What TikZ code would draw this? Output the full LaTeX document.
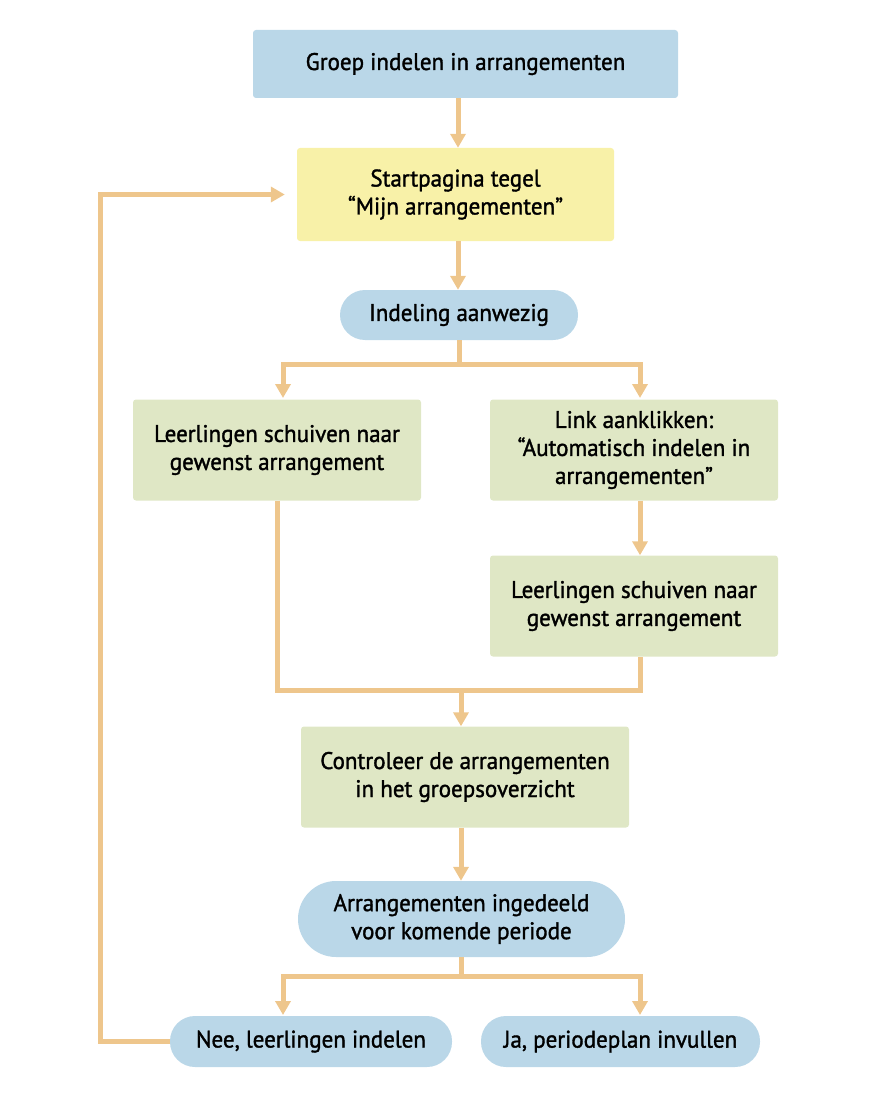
\documentclass[tikz,border=0pt]{standalone}
\usepackage{fontspec}
\setmainfont{PT Sans}[FakeStretch=0.96,FakeBold=1.4]
\usetikzlibrary{arrows.meta,positioning}
\definecolor{bluebox}{RGB}{186,215,232}
\definecolor{yellowbox}{RGB}{248,241,168}
\definecolor{greenbox}{RGB}{223,231,197}
\definecolor{arrowc}{RGB}{238,198,140}
\begin{document}
\begin{tikzpicture}[x=1pt,y=-1pt,
  every node/.style={font=\fontsize{24}{28}\selectfont, text=black, align=center, inner sep=0pt},
  rectbox/.style={rounded corners=3pt, minimum width=#1},
  bluerect/.style={rectbox=425pt, fill=bluebox, minimum height=68pt},
  yellowrect/.style={rectbox=317pt, fill=yellowbox, minimum height=93pt},
  greenrect/.style={rounded corners=3pt, fill=greenbox, minimum width=288pt, minimum height=101pt},
  pill/.style={fill=bluebox, rounded corners=#1},
  line/.style={draw=arrowc, line width=5pt, line join=miter},
  arr/.style={line, -{Triangle[width=15pt,length=14pt]}}]
\useasboundingbox (0,0) rectangle (873,1118);
\node[bluerect] (groep) at (465.5,64) {Groep indelen in arrangementen};
\node[yellowrect] (start) at (455.5,194.5) {Startpagina tegel\\``Mijn arrangementen''};
\node[pill=25pt, minimum width=238pt, minimum height=50pt] (ind) at (459,315) {Indeling aanwezig};
\node[greenrect] (left) at (277,450) {Leerlingen schuiven naar\\gewenst arrangement};
\node[greenrect] (link) at (634,450) {Link aanklikken:\\``Automatisch indelen in\\arrangementen''};
\node[greenrect] (rl) at (634,606) {Leerlingen schuiven naar\\gewenst arrangement};
\node[greenrect, minimum width=328pt] (ctrl) at (465,777) {Controleer de arrangementen\\in het groepsoverzicht};
\node[pill=38pt, minimum width=327pt, minimum height=76pt] (arrg) at (461.5,919) {Arrangementen ingedeeld\\voor komende periode};
\node[pill=25pt, minimum width=282pt, minimum height=51pt] (nee) at (311,1041.5) {Nee, leerlingen indelen};
\node[pill=25pt, minimum width=279pt, minimum height=51pt] (ja) at (620.5,1041.5) {Ja, periodeplan invullen};

\coordinate (b1) at (459,364);
\coordinate (m) at (461,690);
\coordinate (b2) at (461,976);
\coordinate (c1) at (458,0);

\draw[arr] (groep.south -| c1) -- (start.north -| c1);
\draw[arr] (start.south -| c1) -- (ind.north -| c1);
\draw[line] (ind.south) -- (b1);
\draw[arr] (b1) -| (283,398);
\draw[arr] (b1) -| (640,398);
\draw[arr] (link.south -| 640,0) -- (rl.north -| 640,0);
\draw[line] (left.south -| 277,0) -- (277,690) -- (640,690) -- (rl.south -| 640,0);
\draw[arr] (m) -- (ctrl.north -| m);
\draw[arr] (ctrl.south -| m) -- (arrg.north -| m);
\draw[line] (arrg.south -| m) -- (b2);
\draw[arr] (b2) -| (283,1015);
\draw[arr] (b2) -| (640,1015);
\draw[arr, shorten >=12pt] (nee.west) -- (100,1041.5) |- (start.west);
\end{tikzpicture}
\end{document}
